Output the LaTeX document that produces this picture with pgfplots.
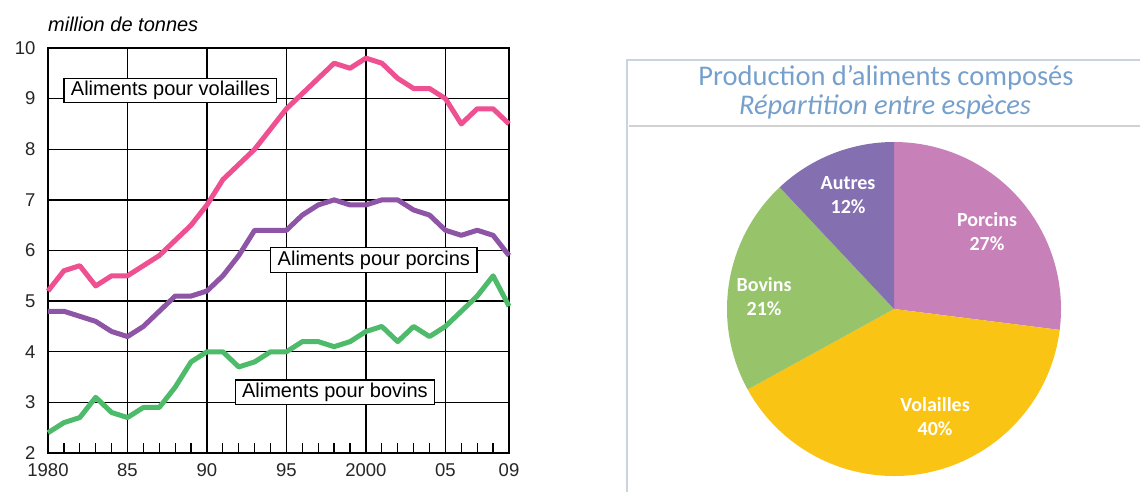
\documentclass[border=0pt]{standalone}
\usepackage{pgfplots}
\pgfplotsset{compat=1.18}
\usepackage{pgfplotstable}
\usepackage{fontspec}
\setmainfont{Liberation Sans}
\newfontfamily\calibri{Carlito}

\definecolor{cvol}{RGB}{238,80,145}
\definecolor{cpor}{RGB}{142,85,166}
\definecolor{cbov}{RGB}{78,187,106}
\definecolor{ppor}{RGB}{199,128,184}
\definecolor{pvol}{RGB}{250,196,20}
\definecolor{pbov}{RGB}{151,195,106}
\definecolor{paut}{RGB}{132,112,176}
\definecolor{ptitle}{RGB}{118,160,204}
\definecolor{pframe}{RGB}{200,212,224}

% million de tonnes
\pgfplotstableread{
year vol por bov
1980 5.2 4.8 2.4
1981 5.6 4.8 2.6
1982 5.7 4.7 2.7
1983 5.3 4.6 3.1
1984 5.5 4.4 2.8
1985 5.5 4.3 2.7
1986 5.7 4.5 2.9
1987 5.9 4.8 2.9
1988 6.2 5.1 3.3
1989 6.5 5.1 3.8
1990 6.9 5.2 4.0
1991 7.4 5.5 4.0
1992 7.7 5.9 3.7
1993 8.0 6.4 3.8
1994 8.4 6.4 4.0
1995 8.8 6.4 4.0
1996 9.1 6.7 4.2
1997 9.4 6.9 4.2
1998 9.7 7.0 4.1
1999 9.6 6.9 4.2
2000 9.8 6.9 4.4
2001 9.7 7.0 4.5
2002 9.4 7.0 4.2
2003 9.2 6.8 4.5
2004 9.2 6.7 4.3
2005 9.0 6.4 4.5
2006 8.5 6.3 4.8
2007 8.8 6.4 5.1
2008 8.8 6.3 5.5
2009 8.5 5.9 4.9
}\feeddata

% pie slice: start %, end %, colour (clockwise from top)
\newcommand\slice[3]{%
  \fill[#3] (axis cs:0,0) -- ++({90-3.6*#1}:167pt)
    arc[start angle={90-3.6*#1}, end angle={90-3.6*#2}, radius=167pt] -- cycle;}

\begin{document}
\begin{tikzpicture}
\useasboundingbox (0,0) rectangle (1140pt,491pt);

% ---- left: line chart
\begin{axis}[
  at={(48pt,38pt)}, anchor=south west,
  scale only axis, width=461pt, height=405pt,
  xmin=1980, xmax=2009, ymin=2, ymax=10,
  xtick={1980,1985,1990,1995,2000,2005,2009},
  xticklabels={1980,85,90,95,2000,05,09},
  minor xtick={1981,...,2008},
  ytick={2,...,10},
  xmajorgrids, ymajorgrids,
  grid style={black, line width=1.3pt},
  axis line style={black, line width=1.3pt},
  tick align=inside, xtick pos=bottom, ytick pos=left,
  major tick length=0pt, minor tick length=10pt,
  minor tick style={black, line width=1.3pt},
  ticklabel style={font=\fontsize{18.5}{20}\selectfont, text=black!85},
  xticklabel style={yshift=-7pt},
  yticklabel style={xshift=-9pt},
  /pgf/number format/assume math mode=true,
  clip=false,
]
\addplot[cvol, line width=5pt, line join=round] table[x=year, y=vol] {\feeddata};
\addplot[cpor, line width=5pt, line join=round] table[x=year, y=por] {\feeddata};
\addplot[cbov, line width=5pt, line join=round] table[x=year, y=bov] {\feeddata};

\tikzset{lbl/.style={draw=black, fill=white, line width=1.2pt,
  font=\fontsize{20}{24}\selectfont, inner xsep=7pt, inner ysep=3pt}}
\node[lbl] at (axis cs:1987.7,9.16) {Aliments pour volailles};
\node[lbl] at (axis cs:2000.5,5.81) {Aliments pour porcins};
\node[lbl] at (axis cs:1998.05,3.2) {Aliments pour bovins};
\end{axis}
\node[anchor=base west, inner sep=0pt, font=\fontsize{20}{24}\selectfont\itshape]
  at (48pt,459pt) {million de tonnes};

% ---- right: pie chart
\draw[pframe, line width=1.5pt] (627pt,-10pt) rectangle (1160pt,431pt);
\draw[black!18, line width=1.5pt] (629pt,365pt) -- (1160pt,365pt);
\node[anchor=base, inner sep=0pt, text=ptitle, font=\calibri\fontsize{28.5}{32}\selectfont]
  at (886pt,405pt) {Production d’aliments composés};
\node[anchor=base, inner sep=0pt, text=ptitle, font=\calibri\fontsize{28.5}{32}\selectfont\itshape]
  at (885pt,376pt) {Répartition entre espèces};

\begin{axis}[
  at={(894pt,182pt)}, anchor=center,
  scale only axis, width=334pt, height=334pt,
  xmin=-1, xmax=1, ymin=-1, ymax=1, hide axis, clip=false,
]
\slice{0}{27}{ppor}
\slice{27}{67}{pvol}
\slice{67}{88}{pbov}
\slice{88}{100}{paut}
\tikzset{plbl/.style={text=white, align=center,
  font=\calibri\bfseries\fontsize{20}{24}\selectfont}}
\node[plbl] at (axis cs:0.557,0.461) {Porcins\\27\%};
\node[plbl] at (axis cs:0.246,-0.647) {Volailles\\40\%};
\node[plbl] at (axis cs:-0.778,0.072) {Bovins\\21\%};
\node[plbl] at (axis cs:-0.275,0.683) {Autres\\12\%};
\end{axis}
\end{tikzpicture}
\end{document}
